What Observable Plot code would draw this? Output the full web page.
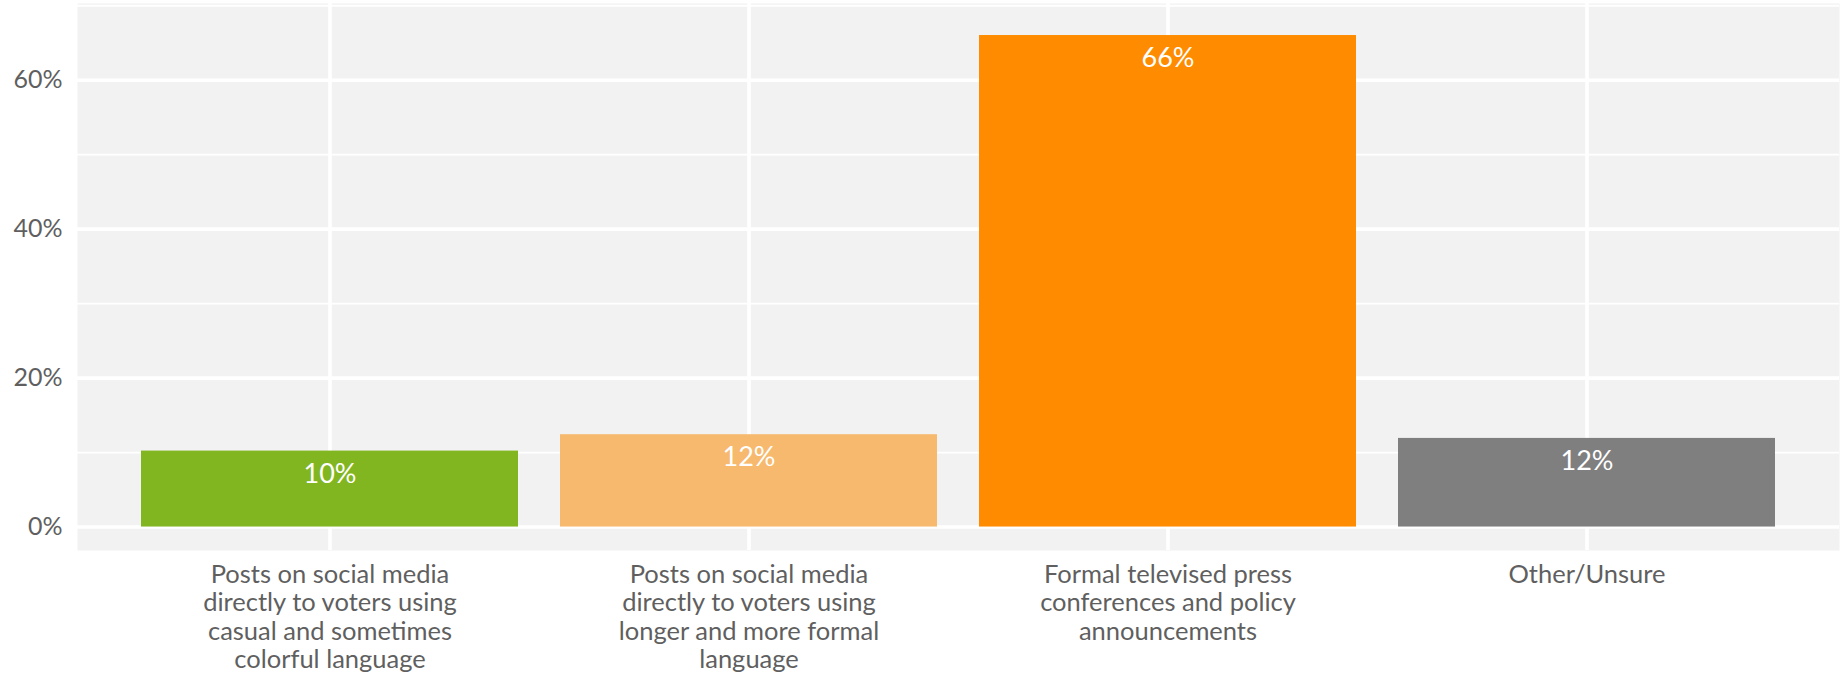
<!DOCTYPE html>
<html>
<head>
<meta charset="utf-8">
<script src="https://cdn.jsdelivr.net/npm/d3@7"></script>
<script src="https://cdn.jsdelivr.net/npm/@observablehq/plot@0.6"></script>
<style>
  html, body { margin: 0; padding: 0; background: #ffffff; }
  #chart { width: 1843px; height: 674px; }
</style>
</head>
<body>
<div id="chart"></div>
<script>
const categories = [
  "Posts on social media\ndirectly to voters using\ncasual and sometimes\ncolorful language",
  "Posts on social media\ndirectly to voters using\nlonger and more formal\nlanguage",
  "Formal televised press\nconferences and policy\nannouncements",
  "Other/Unsure"
];
const values = [10.2, 12.4, 66.0, 11.9];
const valueLabels = ["10%", "12%", "66%", "12%"];
const barColors = ["#82B621", "#F7B96D", "#FF8C00", "#7F7F7F"];
const majorTicks = [0, 20, 40, 60];
const minorTicks = [10, 30, 50, 70];

const data = categories.map((c, i) => ({category: c, value: values[i], label: valueLabels[i]}));

const chart = Plot.plot({
  width: 1843,
  height: 674,
  marginLeft: 77,
  marginRight: 4,
  marginTop: 3,
  marginBottom: 124,
  style: {fontFamily: "Lato, 'Open Sans', sans-serif", background: "#ffffff", overflow: "visible"},
  x: {domain: categories, paddingInner: 0.1, paddingOuter: 0.15, label: null},
  y: {domain: [-3.15, 70.3], label: null},
  color: {domain: categories, range: barColors},
  marks: [
    Plot.frame({fill: "#F2F2F2", stroke: null}),
    Plot.ruleY(minorTicks, {stroke: "#ffffff", strokeWidth: 1.8}),
    Plot.ruleY(majorTicks, {stroke: "#ffffff", strokeWidth: 3.6}),
    Plot.ruleX(categories, {stroke: "#ffffff", strokeWidth: 3.6}),
    Plot.barY(data, {x: "category", y: "value", fill: "category"}),
    Plot.text(data, {x: "category", y: "value", text: "label", fill: "#ffffff", fontSize: 27, dy: 23, lineAnchor: "middle"}),
    Plot.axisY(majorTicks, {tickSize: 0, tickPadding: 15, fontSize: 25, fill: "#5f5f5f", tickFormat: d => d + "%"}),
    Plot.axisX({tickSize: 0, tickPadding: 13, fontSize: 25.5, lineHeight: 1.1, fill: "#5f5f5f"})
  ]
});
document.getElementById("chart").appendChild(chart);
</script>
</body>
</html>
